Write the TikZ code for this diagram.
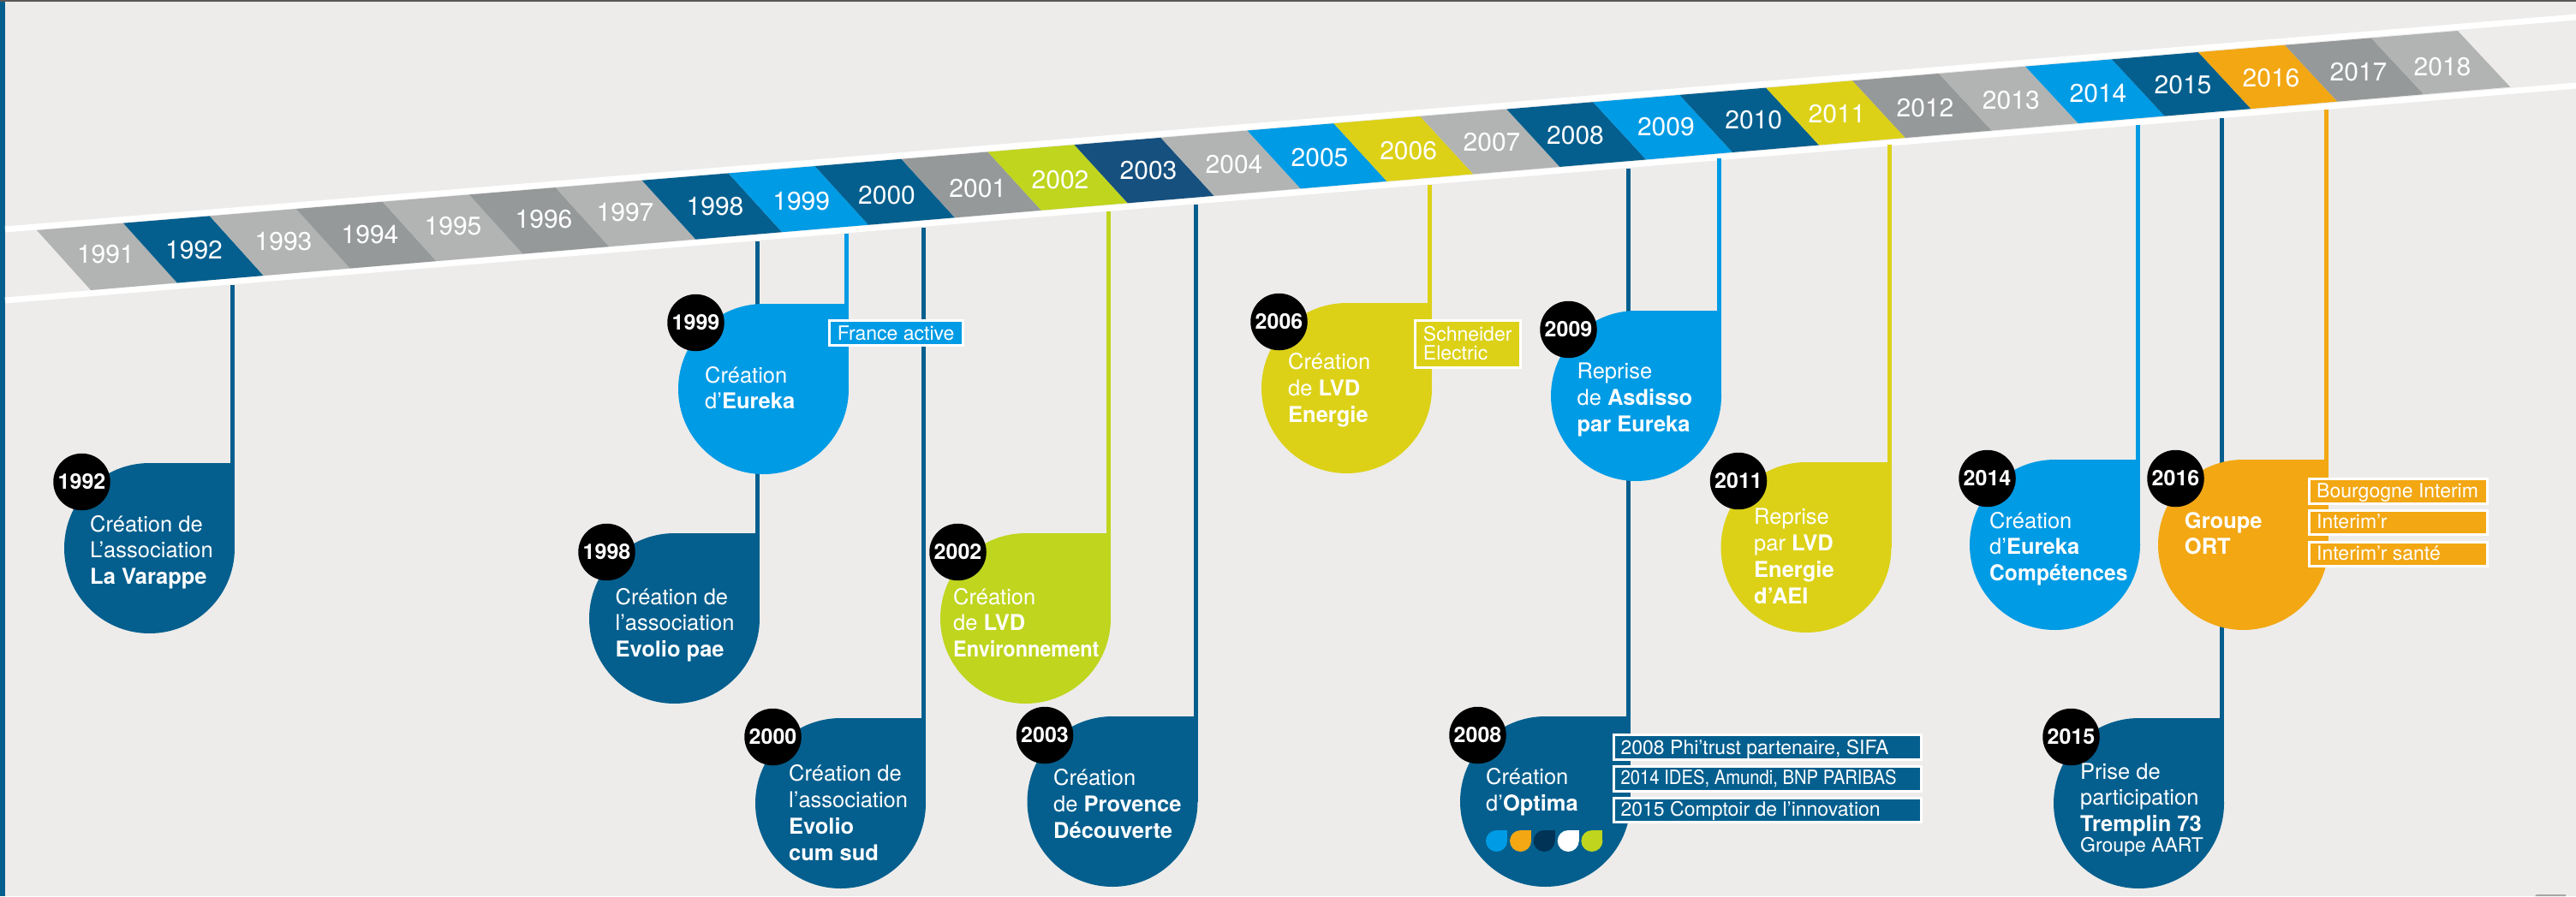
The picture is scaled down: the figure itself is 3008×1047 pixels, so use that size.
\documentclass[tikz,border=0pt]{standalone}
\usepackage{graphicx}
\usepackage{fontspec}
\setmainfont{TeX Gyre Heros}
\definecolor{pagebg}{HTML}{EDECEA}
\definecolor{navy}{HTML}{045F8E}
\definecolor{navyb}{HTML}{15507F}
\definecolor{sky}{HTML}{009BE5}
\definecolor{lime}{HTML}{BFD51E}
\definecolor{mustard}{HTML}{DCD117}
\definecolor{amber}{HTML}{F2A713}
\definecolor{lgray}{HTML}{B2B4B3}
\definecolor{dgray}{HTML}{96999A}
\definecolor{deepnavy}{HTML}{003356}
\tikzset{
  band/.style={line width=7pt,white},
  linkline/.style={line width=5pt},
  dropdisc/.style={circle,minimum size=199pt,inner sep=0pt,outer sep=0pt,draw=none},
  dotdisc/.style={circle,minimum size=25pt,inner sep=0pt,outer sep=0pt,draw=none},
  badge/.style={circle,fill=black,minimum size=66.5pt,inner sep=0pt,text=white,font=\fontsize{25}{30}\selectfont\bfseries},
  yearlabel/.style={inner sep=0pt,text=white,font=\fontsize{30}{34}\selectfont},
  bodytext/.style={anchor=north west,inner sep=0pt,align=left,text=white,font=\fontsize{25.5}{30.7}\selectfont},
  smalltext/.style={anchor=north west,inner sep=0pt,align=left,text=white,font=\fontsize{23}{22.7}\selectfont},
  tagbox/.style={draw=white,line width=3pt},
}
\newcommand{\tldrop}[5]{% id, colour, left, top, connector start y
  \coordinate (s#1) at (#3+196.5,#5);
  \draw[linkline,draw=#2] (s#1) -- (s#1 |- 0,#4+5);
  \node[dropdisc,fill=#2] (d#1) at (#3+99.5,#4+99.5) {};
  \fill[#2] (d#1.north) rectangle (d#1.east);
  \node[badge] (b#1) at (#3+20.5,#4+22) {#1};
}
\newcommand{\tltext}[4]{% name, x, first baseline, text
  \node[bodytext] (#1) at (#2,#3-20) {\rule{0pt}{20pt}#4};
}
\newcommand{\tltag}[5]{% colour, x0, y0, x1, y1
  \draw[tagbox,fill=#1] (#2+1.5,#3+1.5) rectangle (#4-1.5,#5-1.5);
}
\newcommand{\tlsmall}[4]{% name, x, first baseline, text
  \node[smalltext] (#1) at (#2,#3-18) {\rule{0pt}{18pt}#4};
}
\newcommand{\tldot}[3]{% name, colour, left
  \node[dotdisc,fill=#2] (#1) at (#3+12.5,982.5) {};
  \fill[#2] (#1.north) rectangle (#1.east);
}
\begin{document}
\begin{tikzpicture}[x=1pt,y=-1pt]
\useasboundingbox (0,0) rectangle (3008,1047);
\fill[pagebg] (0,0) rectangle (3008,1047);
\fill[black!65] (0,0) rectangle (3008,2);
\fill[navy] (0,2) rectangle (6,1047);
\fill[black!30!pagebg] (2960,1047) -- (2962,1045) -- (2996,1045) -- (2996,1047) -- cycle;
% white bands of the timeline
\draw[band] (6,268) -- (3008,20);
\draw[band] (6,351) -- (3008,100);
% year cells
\foreach \y/\c/\lx/\ly [count=\i from 0] in {
 1991/lgray/123.4/297, 1992/navy/226.5/292, 1993/lgray/331/282, 1994/dgray/432/274,
 1995/lgray/529/264, 1996/dgray/635/256, 1997/lgray/730/248, 1998/navy/835/241,
 1999/sky/935.7/235, 2000/navy/1035.5/228, 2001/dgray/1141.8/220, 2002/lime/1238/210,
 2003/navyb/1341/199, 2004/lgray/1441/192, 2005/sky/1541/184, 2006/mustard/1644.6/176,
 2007/lgray/1742/166, 2008/navy/1839.5/158, 2009/sky/1945.4/148, 2010/navy/2047.7/140,
 2011/mustard/2145/133, 2012/dgray/2248/125.7, 2013/lgray/2348.3/117, 2014/sky/2450/109,
 2015/navy/2549/99.3, 2016/amber/2652/90.7, 2017/dgray/2754/84.3, 2018/lgray/2852/78.3}{
  \pgfmathtruncatemacro\j{\i+1}
  \fill[\c] (43+\i*100.96,269-\i*8.32) -- (43+\j*100.96,269-\j*8.32)
     -- (106+\j*100.9,339-\j*8.475) -- (106+\i*100.9,339-\i*8.475) -- cycle;
  \node[yearlabel] (y\y) at (\lx,\ly) {\y};
}
% drops and their connectors
\tldrop{1992}{navy}{75}{541}{333}
\tldrop{1998}{navy}{688}{623}{282}
\tldrop{1999}{sky}{792}{355}{273}
\tldrop{2000}{navy}{882}{839}{266}
\tldrop{2002}{lime}{1098}{623}{247}
\tldrop{2003}{navy}{1199.5}{837}{239}
\tldrop{2006}{mustard}{1473}{354}{216}
\tldrop{2008}{navy}{1705}{837}{197}
\tldrop{2009}{sky}{1811}{363}{185}
\tldrop{2011}{mustard}{2009.5}{540}{169}
\tldrop{2014}{sky}{2300}{537}{146}
\tldrop{2015}{navy}{2398}{839}{138}
\tldrop{2016}{amber}{2520}{537}{128}
% texts in the drops
\tltext{t1992}{105}{621}{Création de\\L’association\\\textbf{La Varappe}}
\tltext{t1999}{823}{447}{Création\\d’\textbf{Eureka}}
\tltext{t1998}{718.4}{706}{Création de\\l’association\\\textbf{Evolio pae}}
\tltext{t2000}{921}{912.7}{Création de\\l’association\\\textbf{Evolio}\\\textbf{cum sud}}
\tltext{t2002}{1113}{706}{Création\\de \textbf{LVD}\\\scalebox{0.92}[1]{\textbf{Environnement}}}
\tltext{t2003}{1230}{917.7}{Création\\de \textbf{Provence}\\\textbf{Découverte}}
\tltext{t2006}{1504}{431.7}{Création\\de \textbf{LVD}\\\textbf{Energie}}
\tltext{t2009}{1841.4}{442.7}{Reprise\\de \textbf{Asdisso}\\\textbf{par Eureka}}
\tltext{t2011}{2048}{612.7}{Reprise\\par \textbf{LVD}\\\textbf{Energie}\\\textbf{d’AEI}}
\tltext{t2008}{1735}{916.7}{Création\\d’\textbf{Optima}}
\tltext{t2014}{2323}{617}{Création\\d’\textbf{Eureka}\\\scalebox{0.965}[1]{\textbf{Compétences}}}
\tltext{t2016}{2550.7}{617}{\textbf{Groupe}\\\textbf{ORT}}
\tltext{t2015}{2429}{910}{Prise de\\participation\\\textbf{Tremplin 73}}
\tlsmall{t2015b}{2429}{995.5}{Groupe AART}
% small drops of Optima
\tldot{o1}{sky}{1735}
\tldot{o2}{amber}{1763}
\tldot{o3}{deepnavy}{1790.6}
\tldot{o4}{white}{1818.7}
\tldot{o5}{lime}{1846.4}
% side tags
\tltag{sky}{967.3}{373.3}{1125.5}{404.7}
\tlsmall{f1999}{977.6}{397.7}{France active}
\tltag{mustard}{1650.8}{372.7}{1777}{430.7}
\tlsmall{f2006}{1661.7}{398}{Schneider\\Electric}
\tltag{navy}{1882.6}{857.3}{2244.6}{889}
\tlsmall{f2008a}{1892.4}{881.7}{2008 Phi’trust partenaire, SIFA}
\tltag{navy}{1882.6}{894.3}{2244.6}{925.7}
\tlsmall{f2008b}{1892.4}{916.7}{\scalebox{0.88}[1]{2014 IDES, Amundi, BNP PARIBAS}}
\tltag{navy}{1882.6}{931}{2244.6}{962.3}
\tlsmall{f2008c}{1892.4}{953.3}{2015 Comptoir de l’innovation}
\tltag{amber}{2694.7}{558.3}{2905.5}{590}
\tlsmall{f2016a}{2705}{581}{Bourgogne Interim}
\tltag{amber}{2694.7}{595}{2905.5}{626.3}
\tlsmall{f2016b}{2705}{617}{Interim’r}
\tltag{amber}{2694.7}{631.5}{2905.5}{663.3}
\tlsmall{f2016c}{2705}{654}{Interim’r santé}
\end{tikzpicture}
\end{document}
